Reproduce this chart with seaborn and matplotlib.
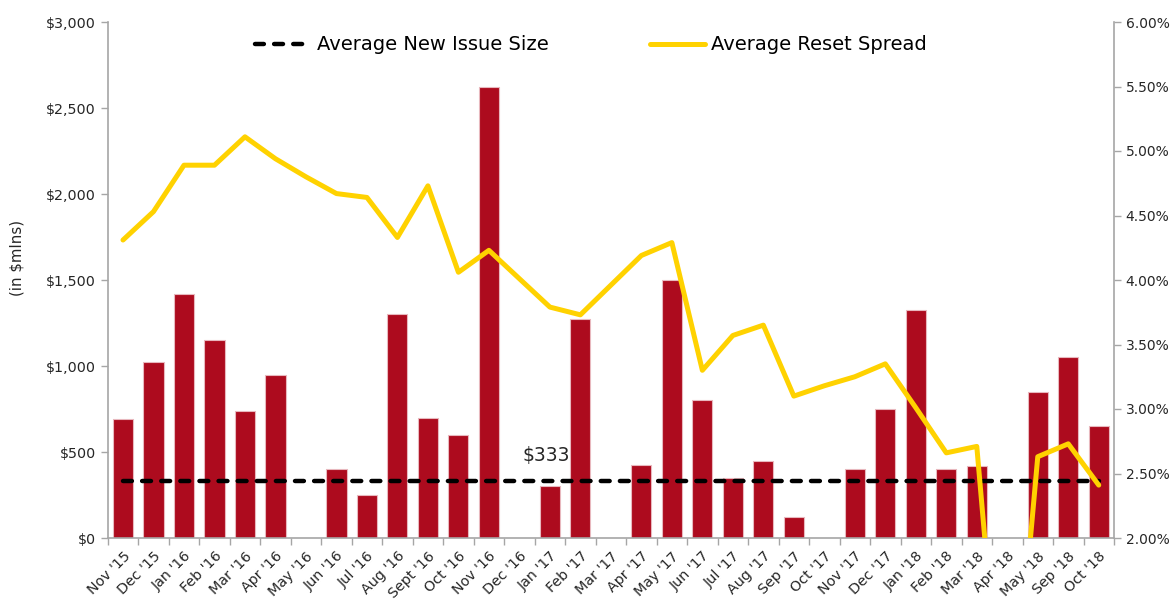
import numpy as np
import pandas as pd
import matplotlib
matplotlib.use("Agg")
import matplotlib.pyplot as plt
import seaborn as sns
from matplotlib.ticker import FuncFormatter, FixedLocator, MultipleLocator
from matplotlib.lines import Line2D

months = ["Nov '15", "Dec '15", "Jan '16", "Feb '16", "Mar '16", "Apr '16", "May '16",
          "Jun '16", "Jul '16", "Aug '16", "Sept '16", "Oct '16", "Nov '16", "Dec '16",
          "Jan '17", "Feb '17", "Mar '17", "Apr '17", "May '17", "Jun '17", "Jul '17",
          "Aug '17", "Sep '17", "Oct '17", "Nov '17", "Dec '17", "Jan '18", "Feb '18",
          "Mar '18", "Apr '18", "May '18", "Sep '18", "Oct '18"]
issue_size = [690, 1025, 1420, 1150, 740, 950, 0, 400, 250, 1300, 700, 600, 2625, 0,
              300, 1275, 0, 425, 1500, 800, 350, 450, 125, 0, 400, 750, 1325, 400,
              420, 0, 850, 1050, 650]
reset_spread = [4.31, 4.53, 4.89, 4.89, 5.11, 4.94, 4.80, 4.67, 4.64, 4.33, 4.73, 4.06,
                4.23, 4.01, 3.79, 3.73, 3.96, 4.19, 4.29, 3.30, 3.57, 3.65, 3.10, 3.18,
                3.25, 3.35, 3.01, 2.66, 2.71, 0.0, 2.63, 2.73, 2.41]
avg_issue_size = 333
avg_label = "$333"

BAR_COLOR = "#AD0B1E"
LINE_COLOR = "#FFD200"
AXIS_COLOR = "#A6A6A6"
TEXT_COLOR = "#262626"

sns.set_style("white")
plt.rcParams["font.family"] = ["DejaVu Sans"]

df = pd.DataFrame({"month": months, "size": issue_size, "spread": reset_spread,
                   "idx": np.arange(len(months)), "avg": [avg_issue_size] * len(months)})

fig = plt.figure(figsize=(11.76, 6.01), dpi=100)
ax = fig.add_axes([107.75 / 1176, 1 - 538 / 601, (1114 - 107.75) / 1176, (538 - 22) / 601])

sns.barplot(data=df, x="month", y="size", color=BAR_COLOR, width=0.66, errorbar=None,
            edgecolor="#E8B8BE", linewidth=0.8, saturation=1, ax=ax, zorder=2)
sns.lineplot(data=df, x="idx", y="avg", ax=ax, color="black", linewidth=3.2, zorder=3)
for l in ax.lines:
    l.set_dashes((2, 2.3))
    l.set_dash_capstyle("round")

ax.set_xlim(-0.5, len(months) - 0.5)
ax.set_ylim(0, 3000)
ax.yaxis.set_major_locator(MultipleLocator(500))
ax.yaxis.set_major_formatter(FuncFormatter(lambda v, p: f"${v:,.0f}"))
ax.set_xticks(np.arange(len(months)))
ax.set_xticklabels(months, rotation=45, ha="right", rotation_mode="anchor",
                   fontsize=10.3, color=TEXT_COLOR)
ax.xaxis.set_minor_locator(FixedLocator(np.arange(len(months) + 1) - 0.5))
ax.tick_params(axis="x", which="major", length=0, pad=8)
ax.tick_params(axis="x", which="minor", length=5, color=AXIS_COLOR, width=1, direction="out",
               bottom=True)
ax.tick_params(axis="y", length=5, color=AXIS_COLOR, width=1, direction="out",
               labelsize=10.3, labelcolor=TEXT_COLOR, left=True)
ax.set_xlabel("")
ax.set_ylabel("(in $mlns)", fontsize=10.8, color=TEXT_COLOR)
ax.yaxis.set_label_coords(-0.083, 0.543)

ax.text(months.index("Jan '17") - 0.12, avg_issue_size + 145, avg_label, ha="center",
        va="center", fontsize=13.5, color=TEXT_COLOR)

ax2 = ax.twinx()
sns.lineplot(data=df, x="idx", y="spread", ax=ax2, color=LINE_COLOR, linewidth=3.6,
             zorder=4)
ax2.set_ylim(2.0, 6.0)
ax2.yaxis.set_major_locator(MultipleLocator(0.5))
ax2.yaxis.set_major_formatter(FuncFormatter(lambda v, p: f"{v:.2f}%"))
ax2.tick_params(axis="y", length=5, color=AXIS_COLOR, width=1, direction="out",
                labelsize=10, labelcolor=TEXT_COLOR, right=True)
ax2.set_ylabel("")
ax2.set_xlim(-0.5, len(months) - 0.5)

for a in (ax, ax2):
    a.spines["top"].set_visible(False)
    for s in ("left", "right", "bottom"):
        a.spines[s].set_color(AXIS_COLOR)
        a.spines[s].set_linewidth(1.2)
ax.spines["right"].set_visible(False)
ax2.spines["left"].set_visible(False)
ax2.spines["bottom"].set_visible(False)

handles = [Line2D([0], [0], color="black", linewidth=3.2, dashes=(2, 2.3),
                  dash_capstyle="round"),
           Line2D([0], [0], color=LINE_COLOR, linewidth=3.6)]
fig.legend(handles, ["Average New Issue Size", "Average Reset Spread"], loc="center",
           bbox_to_anchor=(591 / 1176, 1 - 45 / 601), ncol=2, frameon=False,
           fontsize=14, handlelength=2.85, handletextpad=0.3, columnspacing=5.2,
           borderpad=0, labelcolor="black")

fig.savefig("out.png", dpi=100)
